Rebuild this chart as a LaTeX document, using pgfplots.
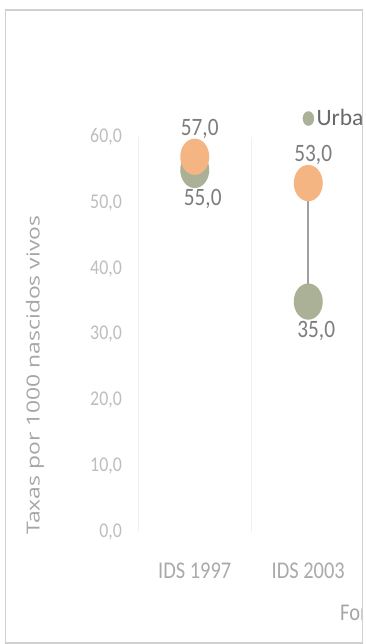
\documentclass[border=0pt]{standalone}
\usepackage{fontspec}
\setmainfont{Carlito}
\newfontfamily\chartfont{Carlito}[FakeStretch=0.85]
\newfontfamily\axisfont{Open Sans}[FakeStretch=1.27]
\usepackage{pgfplots}
\usepackage{pgfplotstable}
\pgfplotsset{compat=1.18}

\definecolor{urbano}{RGB}{170,177,150}
\definecolor{rural}{RGB}{244,181,130}
\definecolor{connector}{RGB}{160,160,160}
\definecolor{datalabel}{RGB}{125,125,125}
\definecolor{ticklabel}{RGB}{190,190,190}
\definecolor{catlabel}{RGB}{170,170,170}
\definecolor{ylabgray}{RGB}{166,166,166}
\definecolor{legendtext}{RGB}{105,105,105}
\definecolor{gridgray}{RGB}{240,240,240}
\definecolor{framegray}{RGB}{208,208,208}

\newcommand\tickfont{\chartfont\fontsize{21}{21}\selectfont}
\newcommand\catfont{\chartfont\fontsize{24}{24}\selectfont}
\newcommand\dlabelfont{\chartfont\fontsize{25}{25}\selectfont}
\newcommand\legfont{\rmfamily\fontsize{23.5}{23.5}\selectfont}
\newcommand\ylabfont{\axisfont\fontsize{18}{18}\selectfont}

% upright oval marker, taller than wide
\pgfdeclareplotmark{oval}{%
  \pgfpathellipse{\pgfpointorigin}{\pgfqpoint{\pgfplotmarksize}{0pt}}{\pgfqpoint{0pt}{1.25\pgfplotmarksize}}%
  \pgfusepathqfill}

% Mortality rates per survey, urban and rural
\pgfplotstableread{
x urbano rural
0 55.0 57.0
1 35.0 53.0
}\ratetable

\begin{document}
\begin{tikzpicture}[x=1pt,y=1pt]
\path[use as bounding box] (0,0) rectangle (365,644);
\fill[white] (0,0) rectangle (365,644);
\begin{scope}
\clip (5.5,1) rectangle (362,634);
\begin{axis}[
  scale only axis,
  width=227pt, height=395pt,
  at={(138pt,112pt)}, anchor=south west,
  xmin=-0.5, xmax=1.5,
  ymin=0, ymax=60,
  clip=false,
  axis line style={draw=none},
  tick style={draw=none},
  major tick length=0pt,
  xtick={0,1},
  xticklabels={IDS 1997, IDS 2003},
  extra x ticks={-0.5,0.5,1.5},
  extra x tick labels={},
  extra x tick style={grid=major, major grid style={draw=gridgray, line width=1pt}},
  xticklabel style={font=\catfont, text=catlabel, anchor=center, inner sep=0pt, yshift=-39pt},
  ytick={0,10,20,30,40,50,60},
  yticklabel style={font=\tickfont, text=ticklabel, anchor=east, inner sep=0pt, xshift=-16pt,
    /pgf/number format/.cd, fixed, fixed zerofill, precision=1, use comma},
  /pgf/number format/assume math mode=true,
  ylabel={Taxas por 1000 nascidos vivos},
  ylabel style={font=\ylabfont, text=ylabgray, at={(axis description cs:-0.4537,0.397)}, anchor=center},
  legend style={at={(axis description cs:0.7247,1.0468)}, anchor=west, draw=none, fill=none,
    font=\legfont, text=legendtext, inner sep=0pt,
    nodes={inner sep=2.5pt},
    /tikz/every even column/.append style={column sep=14pt}},
  legend columns=2,
]
% connectors between the two estimates of each survey
\addplot[connector, line width=2pt, unbounded coords=jump, forget plot]
  coordinates {(0,55.0) (0,57.0) (0,nan) (1,35.0) (1,53.0)};
\addplot[only marks, mark=oval, color=urbano, mark size=14.5pt,
  legend image code/.code={\fill[urbano] (5.5pt,0pt) ellipse [x radius=5.5pt, y radius=7pt];},
  nodes near coords={\pgfmathprintnumber[fixed,fixed zerofill,precision=1,use comma,assume math mode=true]{\pgfplotspointmeta}},
  every node near coord/.append style={font=\dlabelfont, text=datalabel, anchor=center, xshift=8pt, yshift=-29pt}]
  table[x=x, y=urbano] {\ratetable};
\addlegendentry{Urbano}
\addplot[only marks, mark=oval, color=rural, mark size=14.5pt,
  legend image code/.code={\fill[rural] (5.5pt,0pt) ellipse [x radius=5.5pt, y radius=7pt];},
  nodes near coords={\pgfmathprintnumber[fixed,fixed zerofill,precision=1,use comma,assume math mode=true]{\pgfplotspointmeta}},
  every node near coord/.append style={font=\dlabelfont, text=datalabel, anchor=center, xshift=5pt, yshift=28pt}]
  table[x=x, y=rural] {\ratetable};
\addlegendentry{Rural}
\end{axis}
\node[anchor=west, inner sep=0pt, font=\catfont, text=ylabgray] at (340,31) {Fonte:};
\end{scope}
\draw[framegray, line width=1.2pt] (5.5,1) rectangle (362.5,634);
\end{tikzpicture}
\end{document}
